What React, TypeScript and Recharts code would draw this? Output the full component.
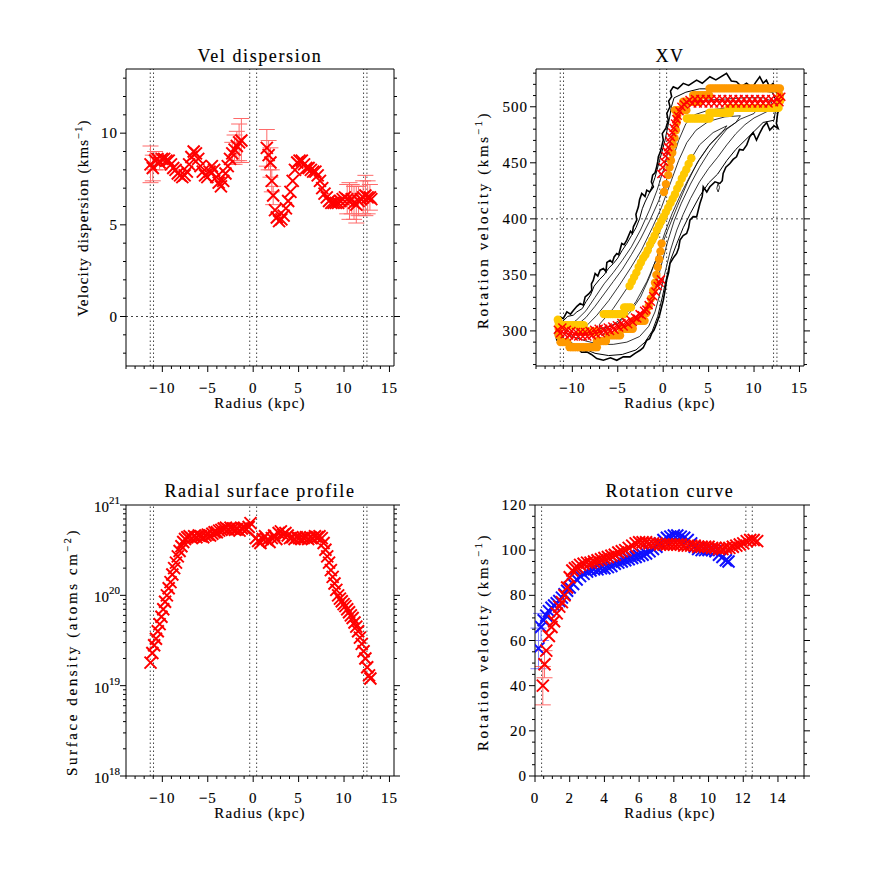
import React from 'react';
import { ComposedChart, Scatter, XAxis, YAxis, ReferenceLine, ErrorBar } from 'recharts';

const FONT = '"Liberation Serif", "Times New Roman", serif';
const RED = '#ff0000';
const BLUE = '#1010ff';
const ORANGE = '#ff9900';
const GOLD = '#ffc800';

// ---- ticks ----
const radiusMajor = [-10, -5, 0, 5, 10, 15];
const radiusMinor = [-14, -13, -12, -11, -10, -9, -8, -7, -6, -5, -4, -3, -2, -1, 0, 1, 2, 3, 4, 5, 6, 7, 8, 9, 10, 11, 12, 13, 14, 15];
const rcRadiusMajor = [0, 2, 4, 6, 8, 10, 12, 14];
const rcRadiusMinor = [0, 0.5, 1, 1.5, 2, 2.5, 3, 3.5, 4, 4.5, 5, 5.5, 6, 6.5, 7, 7.5, 8, 8.5, 9, 9.5, 10, 10.5, 11, 11.5, 12, 12.5, 13, 13.5, 14, 14.5, 15, 15.5];
const dispMajor = [0, 5, 10];
const dispMinor = [-2, -1, 0, 1, 2, 3, 4, 5, 6, 7, 8, 9, 10, 11, 12, 13];
const xvMajor = [300, 350, 400, 450, 500];
const xvMinor = [270, 280, 290, 300, 310, 320, 330, 340, 350, 360, 370, 380, 390, 400, 410, 420, 430, 440, 450, 460, 470, 480, 490, 500, 510, 520, 530];
const densMajor = [1e18, 1e19, 1e20, 1e21];
const densMinor = [1e18, 2e18, 3e18, 4e18, 5e18, 6e18, 7e18, 8e18, 9e18, 1e19, 2e19, 3e19, 4e19, 5e19, 6e19, 7e19, 8e19, 9e19, 1e20, 2e20, 3e20, 4e20, 5e20, 6e20, 7e20, 8e20, 9e20, 1e21];
const rcMajor = [0, 20, 40, 60, 80, 100, 120];
const rcMinor = [0, 5, 10, 15, 20, 25, 30, 35, 40, 45, 50, 55, 60, 65, 70, 75, 80, 85, 90, 95, 100, 105, 110, 115, 120];

const markLines = [-11.33, -10.97, -0.38, 0.38, 12.15, 12.52];
const rcMarkLines = [0.38, 12.15, 12.52];

// ---- velocity dispersion: [radius, sigma, error?] ----
const dispApproach = [
  [-11.3, 8.3, 1.0], [-11.05, 8.1, 0.7], [-10.8, 8.5, 0.5], [-10.55, 8.6], [-10.3, 8.4, 0.4], [-10.05, 8.6], [-9.8, 8.6], [-9.55, 8.5],
  [-9.3, 8.5], [-9.05, 8.3], [-8.8, 8.1], [-8.55, 8.0], [-8.3, 7.8], [-8.05, 7.7], [-7.8, 7.6], [-7.55, 7.7], [-7.3, 7.9], [-7.05, 8.3],
  [-6.8, 8.7], [-6.55, 9.0], [-6.3, 8.9], [-6.05, 8.6], [-5.8, 8.2], [-5.55, 7.9], [-5.3, 7.7], [-5.05, 7.6], [-4.8, 7.9], [-4.55, 8.2],
  [-4.3, 8.0], [-4.05, 7.6], [-3.8, 7.3], [-3.55, 7.1], [-3.3, 7.4], [-3.05, 7.8], [-2.8, 8.2], [-2.55, 8.6], [-2.3, 8.9, 0.6],
  [-2.05, 9.1, 0.8], [-1.8, 9.3, 0.8], [-1.55, 9.5, 1.0], [-1.3, 9.6, 1.2],
];
const dispReceding = [
  [1.5, 9.2, 1.0], [1.7, 8.8, 0.8], [1.9, 8.4, 0.8], [2.05, 7.4, 0.6], [2.2, 6.6, 0.5], [2.4, 5.8], [2.6, 5.4], [2.85, 5.2], [3.1, 5.3],
  [3.35, 5.5], [3.6, 5.9], [3.85, 6.3], [4.1, 6.8], [4.35, 7.4], [4.6, 8.0], [4.85, 8.4], [5.1, 8.5], [5.35, 8.5], [5.6, 8.3], [5.85, 8.1],
  [6.1, 8.1], [6.35, 8.0], [6.6, 7.9], [6.85, 7.9], [7.1, 7.7], [7.35, 7.4], [7.6, 7.0], [7.85, 6.7], [8.1, 6.5], [8.35, 6.3], [8.6, 6.2],
  [8.85, 6.2], [9.1, 6.2], [9.35, 6.2], [9.6, 6.3], [9.85, 6.4], [10.1, 6.5], [10.35, 6.4, 0.8], [10.6, 6.3, 1.0], [10.85, 6.4, 0.8],
  [11.1, 6.2, 0.9], [11.35, 6.1, 1.0], [11.6, 6.3, 0.8], [11.85, 6.4], [12.1, 6.5, 0.9], [12.35, 6.6, 1.1], [12.6, 6.5, 0.9],
  [12.85, 6.5, 0.7], [13.0, 6.4],
];

// ---- XV diagram ----
const xvOuter = [
  [-11.7, 303.6], [-11.5, 309], [-11.33, 312.5], [-11.0, 311], [-10.6, 317], [-10.2, 315], [-9.87, 318.5], [-9.5, 322], [-9.14, 324.4],
  [-8.8, 323], [-8.59, 330.4], [-8.2, 333], [-7.86, 336.3], [-7.9, 342], [-7.7, 345], [-7.49, 351.2], [-7.2, 349], [-6.94, 354.2],
  [-6.58, 355.7], [-6.3, 353], [-6.2, 361], [-5.84, 363.1], [-5.6, 361], [-5.4, 366], [-5.11, 369.1], [-4.9, 368], [-4.56, 378],
  [-4.3, 377], [-4.01, 381], [-3.6, 389], [-3.4, 387], [-3.28, 392.9], [-2.91, 398.8], [-3.0, 404], [-2.73, 410.7], [-2.6, 417],
  [-2.36, 422.7], [-2.0, 420], [-1.81, 425.6], [-1.5, 424], [-1.08, 428.6], [-1.3, 433], [-1.16, 439], [-0.9, 441], [-0.72, 446.4],
  [-0.6, 451], [-0.53, 455.4], [-0.3, 460], [0.01, 470.3], [-0.1, 476], [0.3, 481], [0.56, 488.1], [0.4, 494], [0.75, 500], [0.6, 505],
  [0.93, 509], [0.8, 514], [1.11, 517.9], [1.6, 516], [2.21, 520.9], [2.8, 519], [3.68, 523.8], [4.3, 521], [5.14, 526.8], [5.8, 524],
  [6.97, 529.8], [7.5, 523], [8.07, 522.3], [8.6, 518], [9.17, 520.9], [9.8, 517], [10.2, 522], [10.63, 526.8], [11.0, 521],
  [11.36, 523.8], [11.7, 518], [12.1, 520.9], [12.4, 514], [12.65, 509], [12.83, 500], [12.6, 494], [12.46, 485.1], [12.65, 480.7],
  [12.2, 483], [11.73, 479.2], [11.4, 486], [11.0, 482.2], [10.6, 476], [10.27, 470.3], [9.9, 477], [9.53, 473.2], [9.2, 466],
  [8.8, 461.3], [8.4, 462], [8.07, 455.4], [7.7, 453], [7.34, 449.4], [6.9, 446], [6.6, 440.5], [6.5, 434], [6.24, 431.6],
  [5.7, 433], [5.14, 428.6], [4.8, 424], [4.41, 428.6], [4.3, 420], [4.04, 413.7], [3.68, 401.8], [3.3, 402], [2.94, 398.8],
  [2.8, 392], [2.58, 386.9], [2.2, 385], [1.85, 381], [1.7, 374], [1.48, 369.1], [1.1, 365], [0.75, 360.2], [0.6, 352], [0.38, 345.3],
  [0.2, 336], [0.01, 327.4], [-0.17, 321.5], [-0.4, 314], [-0.72, 306.6], [-1.0, 301], [-1.27, 297.6], [-1.5, 293], [-1.81, 291.7],
  [-2.2, 285], [-2.55, 282.7], [-3.1, 280], [-3.65, 276.8], [-4.4, 277], [-5.11, 273.8], [-5.8, 276], [-6.58, 273.8], [-7.31, 275.3],
  [-7.9, 279], [-8.41, 281.3], [-9.0, 281], [-9.5, 285.7], [-10.0, 286], [-10.6, 290.2], [-11.2, 289], [-11.7, 291.7], [-11.88, 297.6],
  [-11.7, 303.6],
];
const xvContour1 = [
  [-11.4, 301], [-11.0, 309], [-10.5, 313], [-9.9, 314], [-9.5, 317], [-8.9, 320], [-8.5, 326], [-8.0, 332], [-7.6, 340], [-7.0, 346],
  [-6.5, 350], [-6.0, 356], [-5.5, 360], [-5.0, 365], [-4.5, 372], [-4.0, 378], [-3.5, 385], [-3.0, 392], [-2.6, 400], [-2.3, 409],
  [-2, 415], [-1.7, 420], [-1.4, 425], [-0.9, 437], [-0.4, 452], [0.2, 470], [0.5, 482], [0.7, 490], [0.9, 500], [1.2, 508], [2.5, 513],
  [4, 516], [6, 516], [8, 514], [10, 515], [12, 513], [12.5, 504], [12.2, 488], [11, 486], [10, 478], [9, 470], [8, 462], [7, 452],
  [6, 440], [5, 432], [4, 420], [3, 405], [2.2, 392], [1.5, 378], [0.8, 363], [0.3, 345], [-0.1, 330], [-0.6, 313], [-1.2, 300],
  [-2, 290], [-3, 283], [-4.5, 279], [-6, 278], [-7.5, 280], [-9, 285], [-10.5, 291], [-11.3, 295], [-11.4, 301],
];
const xvContour2 = [
  [-10.8, 302], [-9.5, 310], [-8.5, 318], [-7.5, 330], [-6.5, 342], [-5.5, 352], [-4.5, 363], [-3.5, 375], [-2.5, 390], [-1.5, 408],
  [-0.7, 425], [0, 443], [0.6, 462], [1.2, 482], [1.8, 497], [3, 503], [5, 506], [7, 507], [9, 508], [11, 508], [12, 505], [11.5, 496],
  [10, 490], [9, 484], [8, 476], [7, 466], [6, 455], [5, 445], [4, 433], [3, 418], [2.2, 404], [1.5, 390], [0.8, 372], [0.2, 352],
  [-0.3, 335], [-0.9, 317], [-1.6, 304], [-2.6, 295], [-4, 290], [-5.5, 288], [-7, 288], [-8.5, 291], [-10, 295], [-10.8, 298], [-10.8, 302],
];
const xvContour3 = [
  [-9.8, 303], [-8.5, 312], [-7.5, 322], [-6.5, 333], [-5.5, 344], [-4.5, 355], [-3.5, 368], [-2.5, 382], [-1.5, 398], [-0.5, 416],
  [0.3, 433], [1, 452], [1.7, 470], [2.5, 485], [3.5, 493], [5, 497], [7, 499], [9, 500], [10.5, 500], [10, 494], [8.5, 489], [7, 480],
  [6, 470], [5, 459], [4, 446], [3, 431], [2, 414], [1.2, 398], [0.5, 380], [-0.1, 362], [-0.7, 343], [-1.4, 325], [-2.3, 312],
  [-3.5, 303], [-5, 298], [-6.5, 297], [-8, 298], [-9.3, 300], [-9.8, 303],
];
const xvContour4 = [
  [-8.5, 304], [-7.3, 314], [-6, 327], [-4.8, 341], [-3.6, 356], [-2.4, 372], [-1.2, 392], [-0.2, 410], [0.8, 432], [1.7, 452],
  [2.6, 468], [3.6, 479], [5, 487], [6.8, 491], [8.5, 492], [8, 486], [6.5, 478], [5.2, 467], [4, 453], [3, 439], [2, 423], [1, 405],
  [0.2, 388], [-0.6, 368], [-1.5, 348], [-2.5, 330], [-3.7, 316], [-5, 307], [-6.5, 302], [-7.8, 301], [-8.5, 304],
];
const xvContour5 = [
  [-7, 306], [-5.5, 320], [-4, 338], [-2.5, 357], [-1, 378], [0.4, 402], [1.6, 427], [2.8, 450], [4, 466], [5.5, 477], [7, 483],
  [6.5, 477], [5, 465], [3.8, 451], [2.7, 433], [1.6, 412], [0.5, 390], [-0.6, 367], [-1.8, 344], [-3, 326], [-4.4, 312],
  [-5.8, 304], [-7, 302], [-7, 306],
];
const xvIsland = [[5.9, 427], [6.05, 432], [6.2, 428], [6.05, 424], [5.9, 427]];

const xvRed = [
  [-11.6, 301], [-11.35, 298], [-11.1, 303], [-10.85, 297], [-10.6, 301], [-10.35, 296], [-10.1, 300], [-9.85, 295], [-9.6, 299],
  [-9.35, 295], [-9.1, 299], [-8.85, 295], [-8.6, 299], [-8.35, 295], [-8.1, 300], [-7.85, 296], [-7.6, 301], [-7.35, 297], [-7.1, 302],
  [-6.85, 298], [-6.6, 302], [-6.35, 299], [-6.1, 303], [-5.85, 300], [-5.6, 304], [-5.35, 301], [-5.1, 305], [-4.85, 303], [-4.6, 307],
  [-4.35, 304], [-4.1, 308], [-3.85, 306], [-3.6, 310], [-3.35, 308], [-3.1, 312], [-2.85, 311], [-2.6, 315], [-2.35, 314], [-2.1, 318],
  [-1.85, 319], [-1.6, 323], [-1.35, 326], [-1.1, 331], [-0.85, 335], [-0.6, 340], [-0.4, 343], [-0.25, 346],
  [-0.2, 440], [-0.05, 446], [0.1, 451], [0.25, 456], [0.4, 460], [0.55, 464], [0.7, 469], [0.85, 473], [1.0, 477], [1.15, 481],
  [1.3, 485], [1.45, 489], [1.6, 492], [1.8, 496], [2.0, 500], [2.3, 502], [2.6, 504], [2.9, 506], [3.2, 503], [3.5, 507], [3.8, 503],
  [4.1, 507], [4.4, 503], [4.7, 507], [5.0, 503], [5.3, 507], [5.6, 503], [5.9, 507], [6.2, 503], [6.5, 507], [6.8, 503], [7.1, 507],
  [7.4, 503], [7.7, 507], [8.0, 503], [8.3, 507], [8.6, 503], [8.9, 507], [9.2, 503], [9.5, 507], [9.8, 503], [10.1, 507], [10.4, 503],
  [10.7, 507], [11.0, 503], [11.3, 507], [11.6, 503], [11.9, 507], [12.2, 504], [12.5, 508], [12.8, 504], [13.0, 509],
];
const xvOrange = [
  [0.09, 424], [0.3, 431], [0.56, 439], [0.7, 446], [0.85, 452], [1.0, 459], [1.1, 466], [1.25, 472], [1.4, 479], [1.5, 486], [1.55, 492],
  [1.3, 497], [1.55, 497], [1.8, 497], [2.05, 497], [2.3, 497], [2.55, 497],
  [2.2, 504.5], [2.45, 504.5], [2.7, 504.5], [2.95, 504.5], [3.2, 504.5], [3.45, 504.5], [3.7, 504.5], [3.95, 504.5],
  [3.3, 510.4], [3.55, 510.4], [3.8, 510.4], [4.05, 510.4], [4.3, 510.4], [4.55, 510.4], [4.8, 510.4], [5.05, 510.4],
  [5.1, 516.4], [5.35, 516.4], [5.6, 516.4], [5.85, 516.4], [6.1, 516.4], [6.35, 516.4], [6.6, 516.4], [6.85, 516.4], [7.1, 516.4],
  [7.35, 516.4], [7.6, 516.4], [7.85, 516.4], [8.1, 516.4], [8.35, 516.4], [8.6, 516.4], [8.85, 516.4], [9.1, 516.4], [9.35, 516.4],
  [9.6, 516.4], [9.85, 516.4], [10.1, 516.4], [10.35, 516.4], [10.6, 516.4], [10.85, 516.4], [11.1, 516.4], [11.35, 516.4],
  [11.6, 516.4], [11.85, 516.4], [12.1, 516.4], [12.35, 516.4], [12.6, 516.4], [12.85, 516.4], [12.85, 510], [12.85, 505],
  [-0.17, 378], [-0.3, 371], [-0.45, 364], [-0.6, 357], [-0.75, 350], [-0.9, 343], [-1.1, 336], [-1.35, 329], [-1.6, 322], [-1.85, 316],
  [-3.3, 309], [-3.05, 309], [-2.8, 309], [-2.55, 309], [-2.3, 309], [-2.05, 309],
  [-4.6, 302], [-4.35, 302], [-4.1, 302], [-3.85, 302], [-3.6, 302], [-3.35, 302],
  [-6.0, 296], [-5.75, 296], [-5.5, 296], [-5.25, 296], [-5.0, 296], [-4.75, 296],
  [-7.3, 291], [-7.05, 291], [-6.8, 291], [-6.55, 291], [-6.3, 291],
  [-10.3, 285.5], [-10.05, 285.5], [-9.8, 285.5], [-9.55, 285.5], [-9.3, 285.5], [-9.05, 285.5], [-8.8, 285.5], [-8.55, 285.5],
  [-8.3, 285.5], [-8.05, 285.5], [-7.8, 285.5], [-7.55, 285.5], [-7.3, 285.5],
  [-11.3, 290], [-11.05, 290], [-10.8, 290], [-10.55, 290], [-11.5, 296], [-11.5, 302], [-11.5, 308],
];
const xvGold = [
  [-3.7, 340], [-3.45, 344], [-3.2, 348], [-2.95, 352], [-2.7, 357], [-2.45, 361], [-2.2, 365], [-1.95, 368], [-1.7, 372], [-1.45, 377],
  [-1.2, 381], [-0.95, 385], [-0.7, 390], [-0.45, 394], [-0.2, 398], [0.05, 402], [0.3, 406], [0.55, 410], [0.8, 414], [1.05, 418],
  [1.3, 422], [1.55, 427], [1.8, 431], [2.05, 436], [2.3, 440], [2.55, 444], [2.8, 449], [3.1, 454],
  [2.6, 489.6], [2.85, 489.6], [3.1, 489.6], [3.35, 489.6], [3.6, 489.6], [3.85, 489.6], [4.1, 489.6], [4.35, 489.6], [4.6, 489.6],
  [4.85, 489.6], [5.1, 489.6],
  [5.1, 494.7], [5.35, 494.7], [5.6, 494.7], [5.85, 494.7], [6.1, 494.7], [6.35, 494.7], [6.6, 494.7], [6.85, 494.7], [7.1, 494.7], [7.35, 494.7],
  [7.2, 499], [7.45, 499], [7.7, 499], [7.95, 499], [8.2, 499], [8.45, 499], [8.7, 499], [8.95, 499], [9.2, 499], [9.45, 499], [9.7, 499],
  [9.95, 499], [10.2, 499], [10.45, 499], [10.7, 499], [10.95, 499], [11.2, 499], [11.45, 499], [11.7, 499], [11.95, 499], [12.2, 499],
  [12.45, 499], [12.7, 499], [12.9, 506],
  [-4.3, 321], [-4.05, 321], [-3.8, 321], [-3.55, 321],
  [-6.55, 315], [-6.3, 315], [-6.05, 315], [-5.8, 315], [-5.55, 315], [-5.3, 315], [-5.05, 315], [-4.8, 315], [-4.55, 315], [-4.3, 315],
  [-11.5, 305], [-11.25, 305], [-11.0, 305], [-10.75, 305], [-10.5, 305], [-10.25, 305], [-10.0, 305], [-9.75, 305], [-9.5, 305],
  [-9.25, 305], [-9.0, 305], [-8.75, 305],
  [-9.0, 299.5], [-8.75, 299.5], [-8.5, 299.5], [-8.25, 299.5], [-8.0, 299.5], [-7.75, 299.5], [-7.5, 299.5], [-7.25, 299.5],
  [-11.6, 310],
];

// ---- HI surface density (atoms cm^-2) ----
const densApproach = [
  [-11.3, 1.8e19], [-11.1, 2.3e19], [-10.9, 2.8e19], [-10.7, 3.3e19], [-10.5, 4.0e19], [-10.3, 4.8e19], [-10.1, 5.8e19], [-9.9, 7.0e19],
  [-9.7, 8.5e19], [-9.5, 1.0e20], [-9.3, 1.2e20], [-9.1, 1.4e20], [-8.9, 1.7e20], [-8.7, 2.0e20], [-8.5, 2.3e20], [-8.3, 2.7e20],
  [-8.1, 3.1e20], [-7.9, 3.5e20], [-7.7, 3.9e20], [-7.5, 4.2e20], [-7.25, 4.4e20], [-7.0, 4.5e20], [-6.75, 4.3e20], [-6.5, 4.5e20],
  [-6.25, 4.4e20], [-6.0, 4.6e20], [-5.75, 4.5e20], [-5.5, 4.4e20], [-5.25, 4.6e20], [-5.0, 4.7e20], [-4.75, 4.6e20], [-4.5, 4.8e20],
  [-4.25, 5.0e20], [-4.0, 5.0e20], [-3.75, 5.2e20], [-3.5, 5.3e20], [-3.25, 5.5e20], [-3.0, 5.6e20], [-2.75, 5.4e20], [-2.5, 5.6e20],
  [-2.25, 5.5e20], [-2.0, 5.3e20], [-1.75, 5.4e20], [-1.5, 5.2e20], [-1.25, 5.5e20], [-1.0, 5.6e20], [-0.75, 5.4e20], [-0.5, 5.7e20],
  [-0.3, 6.3e20],
];
const densReceding = [
  [0.3, 4.3e20], [0.55, 4.0e20], [0.8, 3.8e20], [1.05, 4.2e20], [1.3, 4.5e20], [1.55, 4.1e20], [1.8, 3.9e20], [2.05, 4.3e20],
  [2.3, 4.6e20], [2.55, 4.2e20], [2.8, 4.9e20], [3.05, 5.1e20], [3.3, 4.7e20], [3.55, 4.9e20], [3.8, 4.6e20], [4.05, 4.3e20],
  [4.3, 4.4e20], [4.55, 4.2e20], [4.8, 4.4e20], [5.05, 4.3e20], [5.3, 4.2e20], [5.55, 4.3e20], [5.8, 4.4e20], [6.05, 4.2e20],
  [6.3, 4.4e20], [6.55, 4.3e20], [6.8, 4.5e20], [7.05, 4.4e20], [7.3, 4.5e20], [7.55, 4.3e20], [7.75, 3.8e20], [7.95, 3.2e20],
  [8.15, 2.7e20], [8.35, 2.3e20], [8.55, 1.9e20], [8.75, 1.6e20], [8.95, 1.35e20], [9.15, 1.15e20], [9.35, 1.0e20], [9.55, 9.2e19],
  [9.75, 8.6e19], [9.95, 8.0e19], [10.15, 7.6e19], [10.35, 7.0e19], [10.55, 6.5e19], [10.75, 6.0e19], [10.95, 5.6e19],
  [11.15, 5.0e19], [11.35, 4.5e19], [11.55, 4.0e19], [11.75, 3.4e19], [11.95, 2.9e19], [12.15, 2.4e19], [12.35, 2.0e19],
  [12.55, 1.6e19], [12.75, 1.3e19], [12.9, 1.2e19],
];

// ---- rotation curve: [radius, vrot, error?] ----
const rcBlue = [
  [0.2, 56.5, 9], [0.35, 66, 6], [0.5, 69], [0.65, 71], [0.8, 73], [0.95, 74.5], [1.1, 75.5], [1.25, 76.5], [1.4, 77.5], [1.55, 79],
  [1.7, 80.5], [1.85, 82], [2.0, 83.5], [2.2, 85], [2.4, 87], [2.6, 88.5], [2.8, 89.5], [3.0, 90.5], [3.2, 91], [3.4, 91.5], [3.6, 91.5],
  [3.8, 92], [4.0, 92], [4.2, 92.5], [4.4, 93], [4.6, 94], [4.8, 94.5], [5.0, 95], [5.2, 95.5], [5.4, 96], [5.6, 96.5], [5.8, 97],
  [6.0, 97.5], [6.2, 98], [6.4, 98.5], [6.6, 99.5], [6.8, 100.5], [7.0, 101.5], [7.2, 103], [7.4, 104.5], [7.6, 105.5], [7.8, 106],
  [8.0, 106.5], [8.2, 106.5], [8.4, 106], [8.6, 105.5], [8.8, 104.5], [9.0, 103], [9.2, 101.5], [9.4, 100.5], [9.6, 100], [9.8, 100],
  [10.0, 100], [10.2, 100], [10.4, 99.5], [10.6, 98], [10.8, 97], [11.0, 95.5], [11.15, 95],
];
const rcRed = [
  [0.45, 40, 8.5], [0.55, 49.5, 6], [0.65, 55.5], [0.8, 62], [0.95, 66], [1.1, 68.5], [1.25, 72], [1.4, 75], [1.55, 77], [1.7, 80],
  [1.85, 83.5], [2.0, 88], [2.15, 91], [2.3, 92], [2.45, 92.5], [2.6, 93.5], [2.8, 94], [3.0, 94.5], [3.2, 94.5], [3.4, 95], [3.6, 95.5],
  [3.8, 96], [4.0, 96.5], [4.2, 97], [4.4, 97.5], [4.6, 98], [4.8, 99], [5.0, 99.5], [5.2, 100], [5.4, 101], [5.6, 102], [5.8, 103],
  [6.0, 103.5], [6.2, 103.5], [6.4, 103.5], [6.6, 103], [6.8, 103], [7.0, 103], [7.2, 102.5], [7.4, 102.5], [7.6, 102.5], [7.8, 102.5],
  [8.0, 102.5], [8.2, 102.5], [8.4, 102.5], [8.6, 102], [8.8, 102], [9.0, 102], [9.2, 102], [9.4, 101.5], [9.6, 101.5], [9.8, 101.5],
  [10.0, 101.5], [10.2, 101], [10.4, 101], [10.6, 100.5], [10.8, 100.5], [11.0, 101], [11.2, 101], [11.4, 101.5], [11.6, 102],
  [11.8, 102.5], [12.0, 103], [12.2, 104], [12.4, 104.5], [12.6, 104.5], [12.8, 104],
];

const pts = (a: number[][]) => a.map((p) => ({ x: p[0], y: p[1], e: p[2] }));

// ---- marker shapes ----
const cross = (color: string, h: number, w: number) => (p: any) => {
  const { cx, cy } = p;
  if (cx == null || cy == null) return <g />;
  return (
    <path d={`M${cx - h} ${cy - h}L${cx + h} ${cy + h}M${cx - h} ${cy + h}L${cx + h} ${cy - h}`} stroke={color} strokeWidth={w} fill="none" />
  );
};
const dot = (color: string, r: number) => (p: any) =>
  p.cx == null ? <g /> : <circle cx={p.cx} cy={p.cy} r={r} fill={color} />;
const none = () => <g />;

// ---- ticks ----
const isMajor = (v: number, majors: number[]) => majors.some((m) => Math.abs(m - v) <= Math.abs(m) * 1e-6 + 1e-9);
const fmt = (v: number) => (v < 0 ? '\u2212' + Math.abs(v) : String(v));
const txt = { fontFamily: FONT, fill: '#000', stroke: '#000', strokeWidth: 0.15 };

const tickBottom = (majors: number[]) => (p: any) => {
  const maj = isMajor(p.payload.value, majors);
  return (
    <g>
      <line x1={p.x} y1={p.y} x2={p.x} y2={p.y + (maj ? 6 : 3)} stroke="#000" />
      {maj && (
        <text x={p.x} y={p.y + 27} textAnchor="middle" fontSize={15} letterSpacing={1} {...txt}>
          {fmt(p.payload.value)}
        </text>
      )}
    </g>
  );
};
const tickTop = (majors: number[]) => (p: any) => {
  const maj = isMajor(p.payload.value, majors);
  return <line x1={p.x} y1={p.y} x2={p.x} y2={p.y - (maj ? 6 : 3)} stroke="#000" />;
};
const tickLeft = (majors: number[], log = false) => (p: any) => {
  const v = p.payload.value;
  const maj = isMajor(v, majors);
  return (
    <g>
      <line x1={p.x} y1={p.y} x2={p.x - (maj ? 6 : 3)} y2={p.y} stroke="#000" />
      {maj && !log && (
        <text x={p.x - 8} y={p.y + 5} textAnchor="end" fontSize={15} letterSpacing={1} {...txt}>
          {fmt(v)}
        </text>
      )}
      {maj && log && (
        <text x={p.x - 6} y={p.y + 7} textAnchor="end" fontSize={15} {...txt}>
          10<tspan dy={-8} fontSize={11}>{Math.round(Math.log10(v))}</tspan>
        </text>
      )}
    </g>
  );
};
const tickRight = (majors: number[]) => (p: any) => {
  const maj = isMajor(p.payload.value, majors);
  return <line x1={p.x} y1={p.y} x2={p.x + (maj ? 6 : 3)} y2={p.y} stroke="#000" />;
};

function axes(xDom: number[], xMaj: number[], xMin: number[], yDom: number[], yMaj: number[], yMin: number[], log = false) {
  const common = { allowDataOverflow: true, interval: 0 as const, tickLine: false, tickSize: 0, tickMargin: 0, axisLine: { stroke: '#000' } };
  const sc = log ? ('log' as const) : ('linear' as const);
  return [
    <XAxis key="xb" type="number" dataKey="x" domain={xDom} ticks={xMin} tick={tickBottom(xMaj)} height={1} {...common} />,
    <XAxis key="xt" xAxisId="t" orientation="top" type="number" domain={xDom} ticks={xMin} tick={tickTop(xMaj)} height={1} {...common} />,
    <YAxis key="yl" type="number" dataKey="y" domain={yDom} scale={sc} ticks={yMin} tick={tickLeft(yMaj, log)} width={1} {...common} />,
    <YAxis key="yr" yAxisId="r" orientation="right" type="number" domain={yDom} scale={sc} ticks={yMin} tick={tickRight(yMaj)} width={1} {...common} />,
  ];
}

const margins = (l: number, t: number, r: number, b: number) => ({ left: l - 1, top: t - 1, right: 872 - r - 1, bottom: 872 - b - 1 });
const vlines = (xs: number[]) =>
  xs.map((v) => <ReferenceLine key={'v' + v} x={v} stroke="#444" strokeDasharray="1.5 2.5" ifOverflow="visible" />);
const abs: React.CSSProperties = { position: 'absolute', left: 0, top: 0 };

function YTitle({ x, y, text, sup, ls = 1.2 }: { x: number; y: number; text: string; sup: string; ls?: number }) {
  return (
    <text transform={`translate(${x},${y}) rotate(-90)`} textAnchor="middle" fontSize={15} letterSpacing={ls}>
      {text}
      <tspan dy={-6} fontSize={10}>{sup}</tspan>
      <tspan dy={6}>)</tspan>
    </text>
  );
}

export default function App() {
  const contourLine = (w: number) => ({ stroke: '#000', strokeWidth: w, fill: 'none' });
  return (
    <div style={{ position: 'absolute', left: 0, top: 0, width: 872, height: 872, background: '#fff' }}>
      <div style={abs}>
        <ComposedChart width={872} height={872} margin={margins(126, 69, 394, 366)}>
          {axes([-14, 15.5], radiusMajor, radiusMinor, [-2.7, 13.5], dispMajor, dispMinor)}
          {vlines(markLines)}
          <ReferenceLine y={0} stroke="#444" strokeDasharray="2 3" />
          <Scatter data={pts(dispApproach)} shape={cross(RED, 6, 2)} isAnimationActive={false}>
            <ErrorBar dataKey="e" direction="y" width={8} stroke="#ff6a6a" strokeWidth={1} />
          </Scatter>
          <Scatter data={pts(dispReceding)} shape={cross(RED, 6, 2)} isAnimationActive={false}>
            <ErrorBar dataKey="e" direction="y" width={8} stroke="#ff6a6a" strokeWidth={1} />
          </Scatter>
        </ComposedChart>
      </div>

      <div style={abs}>
        <ComposedChart width={872} height={872} margin={margins(536, 69, 804, 366)}>
          {axes([-14, 15.5], radiusMajor, radiusMinor, [268.7, 533.7], xvMajor, xvMinor)}
          {vlines(markLines)}
          <ReferenceLine y={400} stroke="#444" strokeDasharray="2 3" />
          <Scatter data={pts(xvOuter)} line={contourLine(1.6)} shape={none} isAnimationActive={false} />
          <Scatter data={pts(xvContour1)} line={contourLine(1)} shape={none} isAnimationActive={false} />
          <Scatter data={pts(xvContour2)} line={contourLine(0.8)} shape={none} isAnimationActive={false} />
          <Scatter data={pts(xvContour3)} line={contourLine(0.8)} shape={none} isAnimationActive={false} />
          <Scatter data={pts(xvContour4)} line={contourLine(0.8)} shape={none} isAnimationActive={false} />
          <Scatter data={pts(xvContour5)} line={contourLine(0.8)} shape={none} isAnimationActive={false} />
          <Scatter data={pts(xvIsland)} line={contourLine(0.8)} shape={none} isAnimationActive={false} />
          <Scatter data={pts(xvOrange)} shape={dot(ORANGE, 4.2)} isAnimationActive={false} />
          <Scatter data={pts(xvGold)} shape={dot(GOLD, 4.2)} isAnimationActive={false} />
          <Scatter data={pts(xvRed)} shape={cross(RED, 4, 1.5)} isAnimationActive={false} />
        </ComposedChart>
      </div>

      <div style={abs}>
        <ComposedChart width={872} height={872} margin={margins(126, 505, 394, 776)}>
          {axes([-14, 15.5], radiusMajor, radiusMinor, [1e18, 1e21], densMajor, densMinor, true)}
          {vlines(markLines)}
          <Scatter data={pts(densApproach)} shape={cross(RED, 6, 2)} isAnimationActive={false} />
          <Scatter data={pts(densReceding)} shape={cross(RED, 6, 2)} isAnimationActive={false} />
        </ComposedChart>
      </div>

      <div style={abs}>
        <ComposedChart width={872} height={872} margin={margins(535, 505, 804, 776)}>
          {axes([0, 15.5], rcRadiusMajor, rcRadiusMinor, [0, 120], rcMajor, rcMinor)}
          {vlines(rcMarkLines)}
          <Scatter data={pts(rcBlue)} shape={cross(BLUE, 6, 2)} isAnimationActive={false}>
            <ErrorBar dataKey="e" direction="y" width={8} stroke="#7a7aff" strokeWidth={1} />
          </Scatter>
          <Scatter data={pts(rcRed)} shape={cross(RED, 6, 2)} isAnimationActive={false}>
            <ErrorBar dataKey="e" direction="y" width={8} stroke="#ff6a6a" strokeWidth={1} />
          </Scatter>
        </ComposedChart>
      </div>

      <svg width={872} height={872} style={{ ...abs, pointerEvents: 'none' }} fontFamily={FONT} fill="#000" stroke="#000" strokeWidth={0.15}>
        <text x={260} y={62} textAnchor="middle" fontSize={18} letterSpacing={1.6}>Vel dispersion</text>
        <text x={670} y={62} textAnchor="middle" fontSize={18} letterSpacing={1.6}>XV</text>
        <text x={260} y={497} textAnchor="middle" fontSize={18} letterSpacing={1.6}>Radial surface profile</text>
        <text x={670} y={497} textAnchor="middle" fontSize={18} letterSpacing={1.6}>Rotation curve</text>
        <text x={260} y={408} textAnchor="middle" fontSize={15} letterSpacing={1.2}>Radius (kpc)</text>
        <text x={670} y={408} textAnchor="middle" fontSize={15} letterSpacing={1.2}>Radius (kpc)</text>
        <text x={260} y={818} textAnchor="middle" fontSize={15} letterSpacing={1.2}>Radius (kpc)</text>
        <text x={670} y={818} textAnchor="middle" fontSize={15} letterSpacing={1.2}>Radius (kpc)</text>
        <YTitle x={88} y={218} text="Velocity dispersion (kms" sup={'\u22121'} />
        <YTitle x={488} y={220} text="Rotation velocity (kms" sup={'\u22121'} ls={2.6} />
        <YTitle x={77} y={652} text="Surface density (atoms cm" sup={'\u22122'} ls={2.6} />
        <YTitle x={488} y={642} text="Rotation velocity (kms" sup={'\u22121'} ls={2.6} />
      </svg>
    </div>
  );
}
